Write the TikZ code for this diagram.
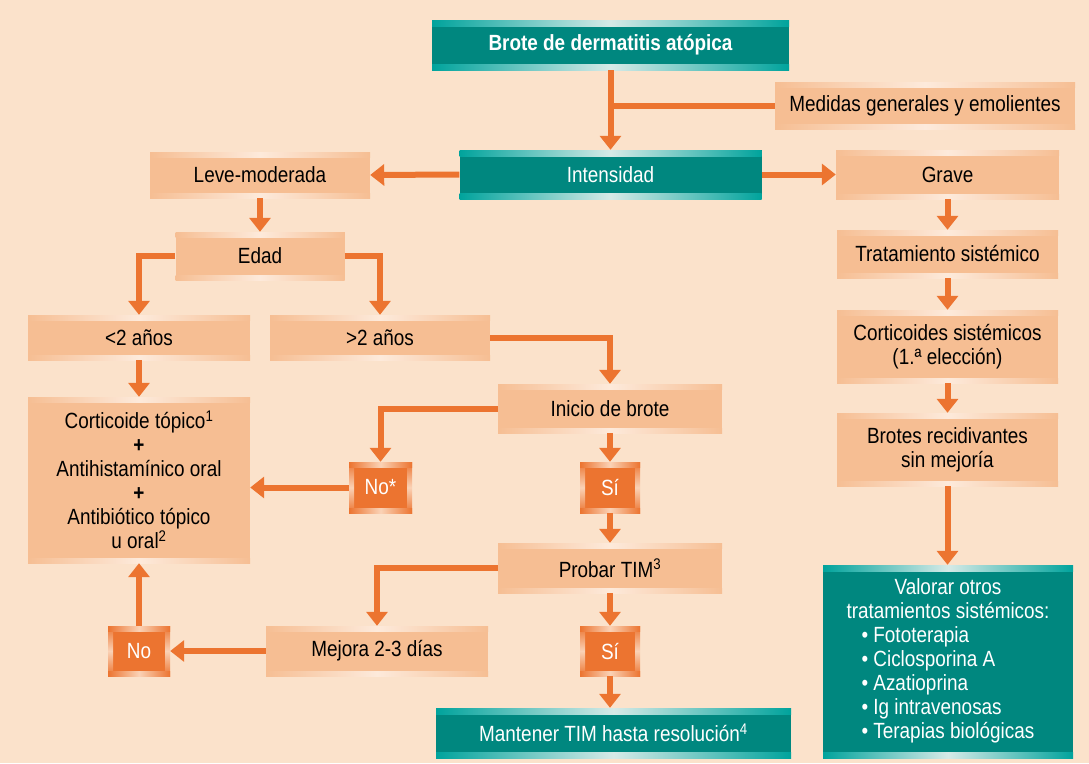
\documentclass[tikz,border=0pt]{standalone}
\usepackage{fontspec}
\setmainfont{Liberation Sans}[FakeStretch=0.86]
\usetikzlibrary{arrows.meta}

\definecolor{bg}{HTML}{FBE2CB}
\definecolor{boxc}{HTML}{F6BE93}
\definecolor{boxhi}{HTML}{FDEADB}
\definecolor{teal}{HTML}{00877F}
\definecolor{tealedge}{HTML}{00A39C}
\definecolor{tealhi}{HTML}{D6EAE7}
\definecolor{orng}{HTML}{EC7430}
\definecolor{orhi}{HTML}{FAD2B6}

\tikzset{
  base/.style={inner sep=0pt, align=center},
  % light boxes: top and bottom strips brighten towards the middle
  lbox/.style={base, fill=boxc, text=black,
    path picture={
      \shade[left color=boxc, right color=boxc, middle color=boxhi]
        (path picture bounding box.north west) rectangle ([yshift=-5pt]path picture bounding box.north east);
      \shade[left color=boxc, right color=boxc, middle color=boxhi]
        ([yshift=5pt]path picture bounding box.south west) rectangle (path picture bounding box.south east);
    }},
  tbox/.style={base, fill=teal, text=white,
    path picture={
      \shade[left color=tealedge, right color=tealedge, middle color=tealhi]
        (path picture bounding box.north west) rectangle ([yshift=-6pt]path picture bounding box.north east);
      \shade[left color=tealedge, right color=tealedge, middle color=tealhi]
        ([yshift=6pt]path picture bounding box.south west) rectangle (path picture bounding box.south east);
    }},
  obox/.style={base, fill=orng, text=white,
    path picture={
      \shade[top color=orng, bottom color=orng, middle color=orhi]
        (path picture bounding box.north west) rectangle ([xshift=5pt]path picture bounding box.south west);
      \shade[top color=orng, bottom color=orng, middle color=orhi]
        ([xshift=-5pt]path picture bounding box.north east) rectangle (path picture bounding box.south east);
      \shade[left color=orng, right color=orng, middle color=orhi]
        (path picture bounding box.north west) rectangle ([yshift=-5pt]path picture bounding box.north east);
      \shade[left color=orng, right color=orng, middle color=orhi]
        ([yshift=5pt]path picture bounding box.south west) rectangle (path picture bounding box.south east);
    }},
  conn/.style={draw=orng, line width=6pt},
  arr/.style={conn, -{Triangle[width=21pt,length=14pt]}},
}

\begin{document}
\begin{tikzpicture}[x=1pt, y=-1pt, font=\fontsize{22}{24}\selectfont]
\useasboundingbox (0,0) rectangle (1089,763);
\fill[bg] (0,0) rectangle (1089,763);

% top row
\node[tbox, minimum width=357pt, minimum height=50pt, font=\fontsize{22}{24}\selectfont\bfseries] (brote) at (610.5,45) {Brote de dermatitis atópica};
\node[lbox, minimum width=300pt, minimum height=47pt] (medidas) at (925,105.5) {Medidas generales y emolientes};
\node[tbox, minimum width=302pt, minimum height=49pt] (intens) at (610.5,174.5) {Intensidad};
\node[lbox, minimum width=220pt, minimum height=46pt] (leve) at (260,175) {Leve-moderada};
\node[lbox, minimum width=223pt, minimum height=49pt] (grave) at (947.5,174.5) {Grave};

% left branch
\node[lbox, minimum width=169pt, minimum height=48pt] (edad) at (260,256) {Edad};
\node[lbox, minimum width=222pt, minimum height=45pt] (menos) at (139,337.5) {<2 años};
\node[lbox, minimum width=220pt, minimum height=45pt] (mas) at (380,337.5) {>2 años};
\node[lbox, minimum width=222pt, minimum height=166pt] (cort) at (139,480)
  {Corticoide tópico\textsuperscript{1}\\ \textbf{+}\\ Antihistamínico oral\\ \textbf{+}\\ Antibiótico tópico\\ u oral\textsuperscript{2}};
\node[lbox, minimum width=224pt, minimum height=49pt] (inicio) at (610,408.5) {Inicio de brote};
\node[obox, minimum width=63pt, minimum height=51pt] (nostar) at (380.5,487.5) {No*};
\node[obox, minimum width=60pt, minimum height=51pt] (si1) at (610,487.5) {Sí};
\node[lbox, minimum width=224pt, minimum height=50pt] (probar) at (610,568) {Probar TIM\textsuperscript{3}};
\node[lbox, minimum width=222pt, minimum height=50pt] (mejora) at (377,651) {Mejora 2-3 días};
\node[obox, minimum width=60pt, minimum height=50pt] (si2) at (610,651) {Sí};
\node[obox, minimum width=62pt, minimum height=50pt] (no) at (139,651) {No};
\node[tbox, minimum width=355pt, minimum height=50pt] (mantener) at (613.5,733) {Mantener TIM hasta resolución\textsuperscript{4}};

% right branch
\node[lbox, minimum width=221pt, minimum height=48pt] (trat) at (947.5,254) {Tratamiento sistémico};
\node[lbox, minimum width=221pt, minimum height=73pt] (cortsis) at (947.5,346.5) {Corticoides sistémicos\\ (1.ª elección)};
\node[lbox, minimum width=221pt, minimum height=73pt] (brotes) at (947.5,449.5) {Brotes recidivantes\\ sin mejoría};
\node[tbox, minimum width=250pt, minimum height=193pt] (valorar) at (948,661.5)
  {\begin{tabular}{@{}l@{}}
   \multicolumn{1}{@{}c@{}}{Valorar otros}\\
   \multicolumn{1}{@{}c@{}}{tratamientos sistémicos:}\\
   \hspace{15pt}• Fototerapia\\
   \hspace{15pt}• Ciclosporina A\\
   \hspace{15pt}• Azatioprina\\
   \hspace{15pt}• Ig intravenosas\\
   \hspace{15pt}• Terapias biológicas
   \end{tabular}};

% connectors
\draw[arr] (brote) -- (intens);
\draw[conn] (brote.south |- medidas.west) -- (medidas.west);
\draw[arr] (intens.west) -- (leve.east);
\draw[arr] (intens.east) -- (grave.west);
\draw[arr] (leve) -- (edad);
\draw[arr] (edad.west) -| (menos.north);
\draw[arr] (edad.east) -| (mas.north);
\draw[arr] (menos) -- (cort);
\draw[arr] (mas.east) -| (inicio.north);
\draw[arr] (inicio.west) -| (nostar.north);
\draw[arr] (nostar.west) -- (cort.east |- nostar.west);
\draw[arr] (inicio) -- (si1);
\draw[arr] (si1) -- (probar);
\draw[arr] (probar.west) -| (mejora.north);
\draw[arr] (probar) -- (si2);
\draw[arr] (si2) -- (si2 |- mantener.north);
\draw[arr] (mejora.west) -- (no.east);
\draw[arr] (no) -- (cort);
\draw[arr] (grave) -- (trat);
\draw[arr] (trat) -- (cortsis);
\draw[arr] (cortsis) -- (brotes);
\draw[arr] (brotes) -- (brotes |- valorar.north);
\end{tikzpicture}
\end{document}
